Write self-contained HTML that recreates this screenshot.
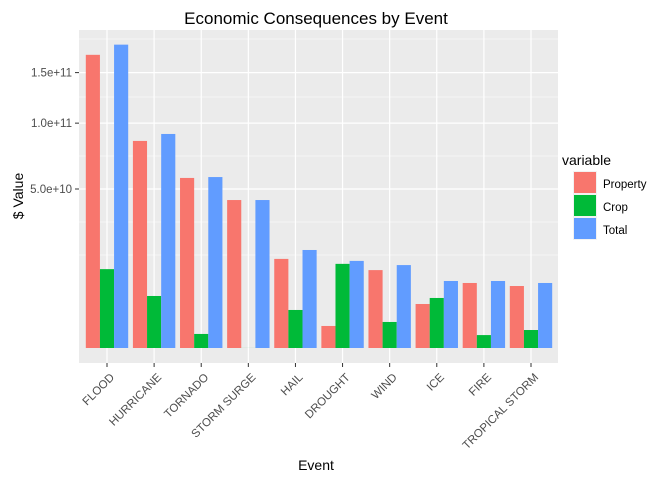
<!DOCTYPE html>
<html><head><meta charset="utf-8"><style>
body{margin:0;background:#fff;font-family:"Liberation Sans",Arial,sans-serif;}
svg text{font-family:"Liberation Sans",Arial,sans-serif;}
</style></head><body>
<svg id="c" width="672" height="480">
<text x="316" y="24" text-anchor="middle" font-size="17" fill="#000">Economic Consequences by Event</text>
<rect x="79" y="30" width="479" height="333" fill="#ebebeb"/>
<g id="grid"></g><g id="bars"></g><g id="axes"></g>
<text x="316" y="470" text-anchor="middle" font-size="14">Event</text>
<text transform="translate(23,196) rotate(-90)" text-anchor="middle" font-size="14">$ Value</text>
<g>
<text x="562" y="165" font-size="14">variable</text>
<g><rect x="573" y="171" width="24" height="23" fill="#f2f2f2"/><rect x="574" y="172" width="22" height="21" fill="#F8766D"/><text x="603" y="188" font-size="11.5">Property</text></g>
<g><rect x="573" y="194" width="24" height="23" fill="#f2f2f2"/><rect x="574" y="195" width="22" height="21" fill="#00BA38"/><text x="603" y="211" font-size="11.5">Crop</text></g>
<g><rect x="573" y="217" width="24" height="23" fill="#f2f2f2"/><rect x="574" y="218" width="22" height="21" fill="#619CFF"/><text x="603" y="234" font-size="11.5">Total</text></g>
</g>
</svg>
<script>
const categories=["FLOOD","HURRICANE","TORNADO","STORM SURGE","HAIL","DROUGHT","WIND","ICE","FIRE","TROPICAL STORM"];
const propertyVals=[1.70e11,8.48e10,5.72e10,4.33e10,1.57e10,9.6e8,1.2e10,3.83e9,8.36e9,7.6e9];
const cropVals=[1.23e10,5.35e9,3.9e8,5e3,2.86e9,1.40e10,1.34e9,4.95e9,3.3e8,6.4e8];
const totalVals=[1.82e11,9.06e10,5.78e10,4.33e10,1.9e10,1.50e10,1.36e10,8.88e9,8.88e9,8.36e9];
const yTicks=[5e10,1e11,1.5e11];
const yTickLabels=["5.0e+10","1.0e+11","1.5e+11"];
const NS="http://www.w3.org/2000/svg";
function mk(t,a,p){const e=document.createElementNS(NS,t);for(const k in a)e.setAttribute(k,a[k]);p.appendChild(e);return e;}
const y0=348,k=159/Math.sqrt(5e10);
function yS(v){return y0-Math.sqrt(v)*k;}
const step=(531-107)/(categories.length-1);
function xS(i){return 107+i*step;}
const grid=document.getElementById('grid'),bars=document.getElementById('bars'),axes=document.getElementById('axes');
[39,97,156,222,255].forEach(y=>{const l=mk('line',{x1:79,x2:558,y1:y,y2:y,stroke:'#fff','stroke-width':0.6},grid);

});
yTicks.forEach((v,i)=>{const y=yS(v);
const l=mk('line',{x1:79,x2:558,y1:y,y2:y,stroke:'#fff','stroke-width':1.2},grid);


mk('line',{x1:75,x2:79,y1:y,y2:y,stroke:'#333'},axes);
const t=mk('text',{x:72,y:y+4,'text-anchor':'end','font-size':11.5,fill:'#4d4d4d'},axes);t.textContent=yTickLabels[i];

});
const series=[[propertyVals,'#F8766D','property'],[cropVals,'#00BA38','crop'],[totalVals,'#619CFF','total']];
const bw=step*0.9/3;
categories.forEach((c,i)=>{const x=xS(i);
const g=mk('line',{x1:x,x2:x,y1:30,y2:363,stroke:'#fff','stroke-width':1.2},grid);


series.forEach((s,j)=>{const v=s[0][i];const top=yS(v);
const r=mk('rect',{x:x-1.5*bw+j*bw,y:top,width:bw,height:y0-top,fill:s[1]},bars);

});
mk('line',{x1:x,x2:x,y1:363,y2:367,stroke:'#333'},axes);
const t=mk('text',{transform:`translate(${x+8},${378}) rotate(-45)`,'text-anchor':'end','font-size':11.5,fill:'#4d4d4d'},axes);t.textContent=c;

});
</script>
</body></html>
